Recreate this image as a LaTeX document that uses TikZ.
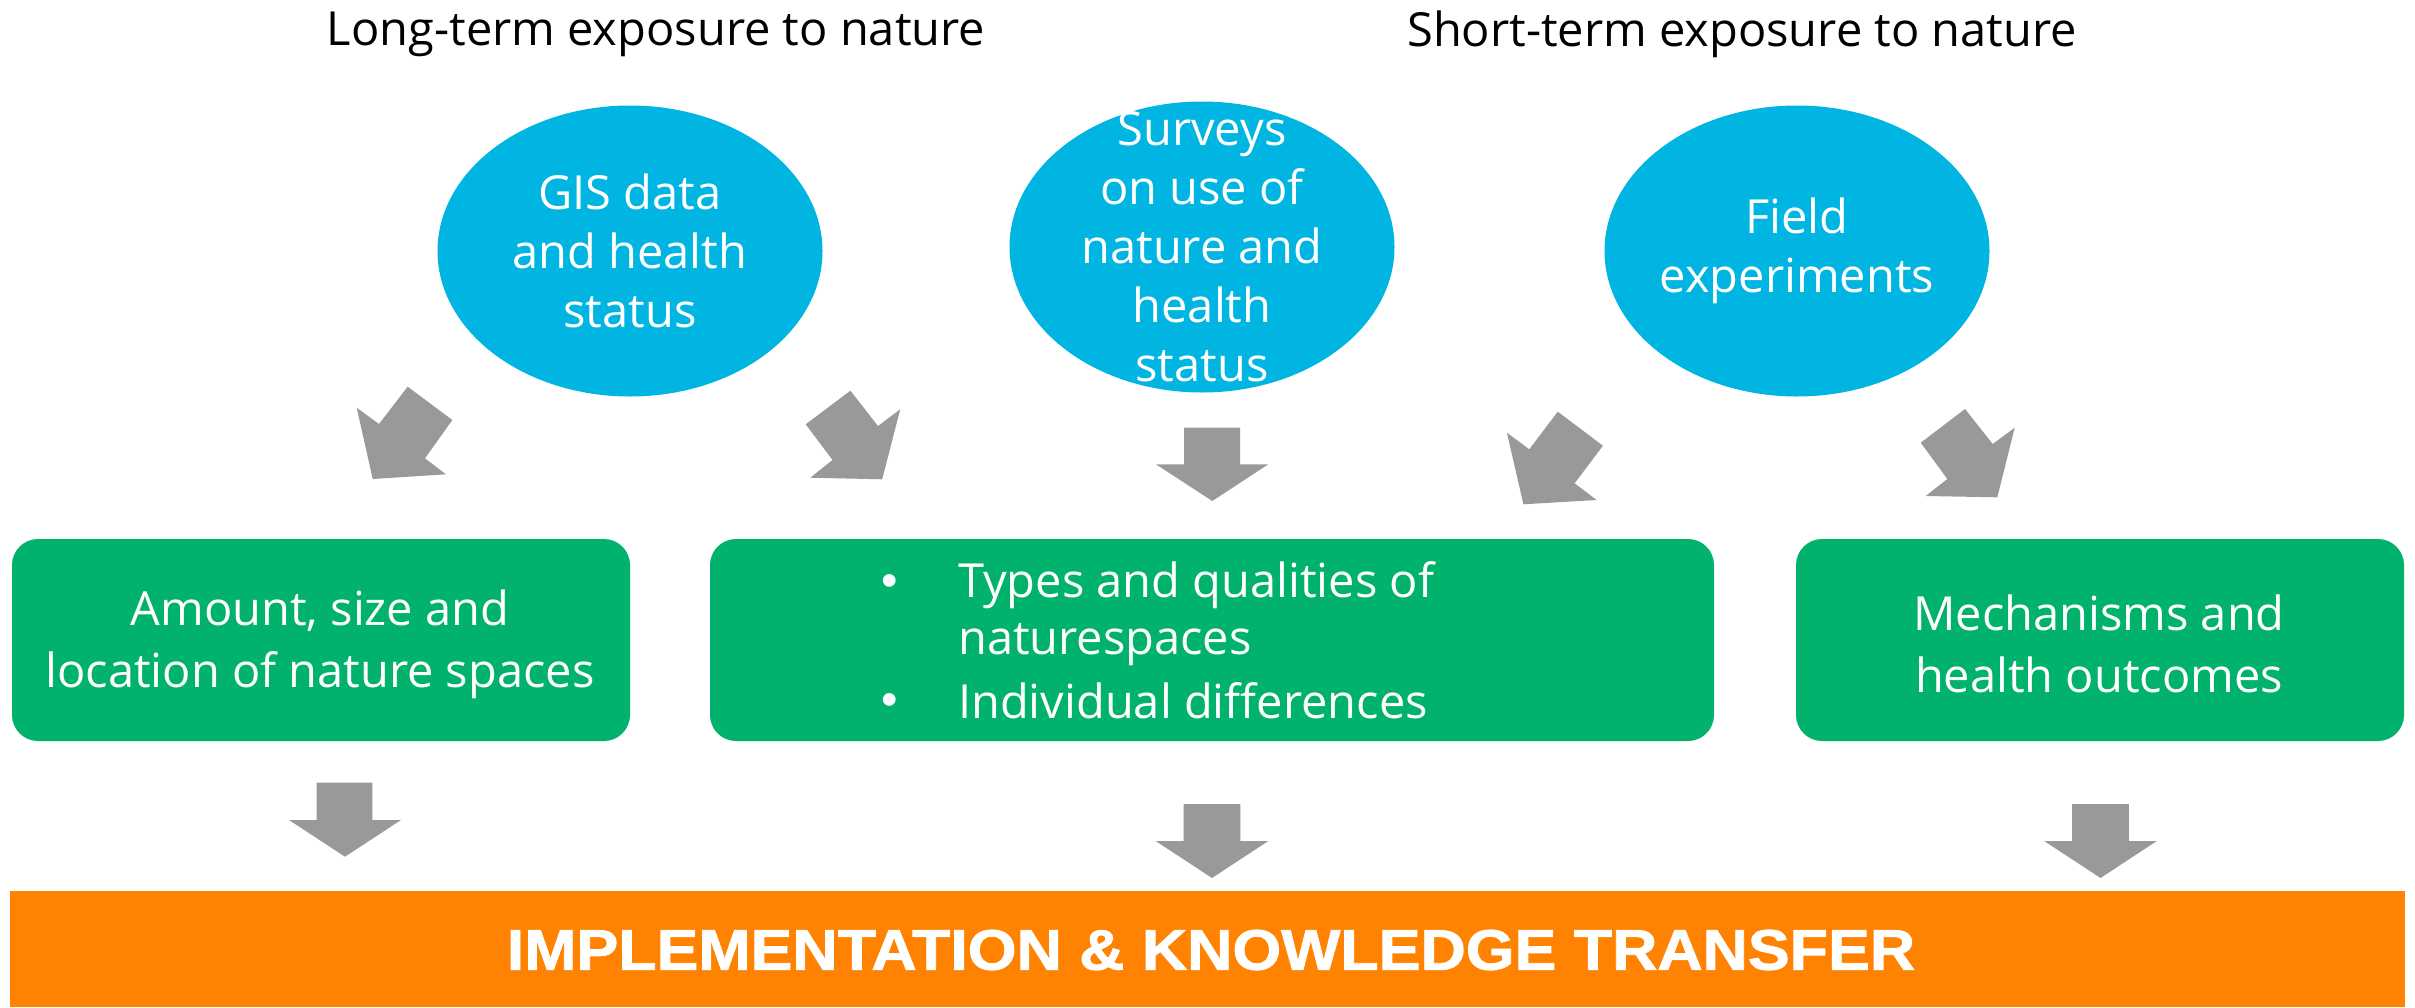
\documentclass[tikz,border=0pt]{standalone}
\usepackage{fontspec}
\setmainfont{Open Sans}
\newfontfamily\bannerfont[FakeStretch=1.1,FakeBold=1.5]{Liberation Sans}
\newfontfamily\dotfont{Liberation Sans}
\usetikzlibrary{shapes.geometric}
\definecolor{skyblue}{RGB}{0,181,226}
\definecolor{leafgreen}{RGB}{0,178,107}
\definecolor{banner}{RGB}{255,130,0}
\definecolor{arrowgray}{RGB}{153,153,153}
\begin{document}
\begin{tikzpicture}[x=1pt,y=-1pt,
  blob/.style={ellipse, fill=skyblue, minimum width=385pt, minimum height=291pt, inner sep=0pt},
  blobtext/.style={text=white, font=\fontsize{47}{59}\selectfont, align=center, inner sep=0pt},
  greenbox/.style={fill=leafgreen, rounded corners=26pt, minimum height=202pt, inner sep=0pt},
  boxtext/.style={text=white, font=\fontsize{47}{62}\selectfont, align=center, inner sep=0pt},
  bullettext/.style={text=white, font=\fontsize{47}{57}\selectfont, align=left, inner sep=0pt, anchor=west},
  bulletdot/.style={text=white, font=\dotfont\fontsize{47}{57}\selectfont, inner sep=0pt},
  heading/.style={text=black, font=\fontsize{47}{56}\selectfont, inner sep=0pt},
  block/.style={fill=arrowgray}]
\useasboundingbox (0,0) rectangle (2415,1007);

% headings
\node[heading] (longterm) at (656,34) {Long-term exposure to nature};
\node[heading] (shortterm) at (1742,34) {Short-term exposure to nature};

% data sources
\node[blob] (gis) at (630,251) {};
\node[blob] (surveys) at (1202,247) {};
\node[blob] (field) at (1797,251) {};
\node[blobtext] (gistext) at (gis.center) {GIS data\\and health\\status};
\node[blobtext] (surveystext) at (surveys.center) {Surveys\\on use of\\nature and\\health\\status};
\node[blobtext] (fieldtext) at (field.center) {Field\\experiments};

% findings
\node[greenbox, minimum width=618pt] (amount) at (321,640) {};
\node[greenbox, minimum width=1004pt] (types) at (1212,640) {};
\node[greenbox, minimum width=608pt] (mech) at (2100,640) {};
\node[boxtext] (amounttext) at (320,644) {Amount, size and\\location of nature spaces};
\node[boxtext] (mechtext) at (2099,644) {Mechanisms and\\health outcomes};
\node[bulletdot] (bulletA) at (890,586) {•};
\node[bullettext] (typestext) at (958,614) {Types and qualities of\\naturespaces};
\node[bulletdot] (bulletB) at (890,705) {•};
\node[bullettext] (indivtext) at (958,701) {Individual differences};

% banner
\node[fill=banner, minimum width=2395pt, minimum height=116pt, inner sep=0pt] (banner) at (1207.5,949) {};
\node[text=white, font=\bannerfont\fontsize{57}{60}\selectfont\bfseries, inner sep=0pt] (bannertext) at (1211,950) {IMPLEMENTATION \& KNOWLEDGE TRANSFER};

% tilted block arrows
\fill[block] (407.7,386.7) -- (452.3,420) -- (425,458.3) -- (446,474.3) -- (372.7,479) -- (356.7,407.7) -- (379,424) -- cycle;
\fill[block] (805.7,424.3) -- (850.4,390.7) -- (878,426) -- (900.2,409.3) -- (882.2,479.3) -- (810.3,477.7) -- (832.5,460) -- cycle;
\fill[block] (1557.7,411.7) -- (1603,445.7) -- (1574.6,483.3) -- (1596.7,500) -- (1523.4,504.3) -- (1506.9,432.7) -- (1529.3,449.3) -- cycle;
\fill[block] (1920.7,442.7) -- (1965,409) -- (1992.7,444) -- (2014.7,427.7) -- (1997.3,497.3) -- (1925.7,496) -- (1947.3,479) -- cycle;

% straight block arrows
\fill[block] (1184,427.7) -- (1240,427.7) -- (1240,464.3) -- (1268.3,464.3) -- (1212.3,501) -- (1156,464.3) -- (1184,464.3) -- cycle;
\fill[block] (316.7,782.7) -- (372.3,782.7) -- (372.3,820) -- (401,820) -- (345,856.7) -- (289,820) -- (316.7,820) -- cycle;
\foreach \cx in {1212,2100.5}
  \fill[block] (\cx-28.3,804) -- (\cx+28.3,804) -- (\cx+28.3,841) -- (\cx+56.3,841) -- (\cx,878) -- (\cx-56.3,841) -- (\cx-28.3,841) -- cycle;
\end{tikzpicture}
\end{document}
